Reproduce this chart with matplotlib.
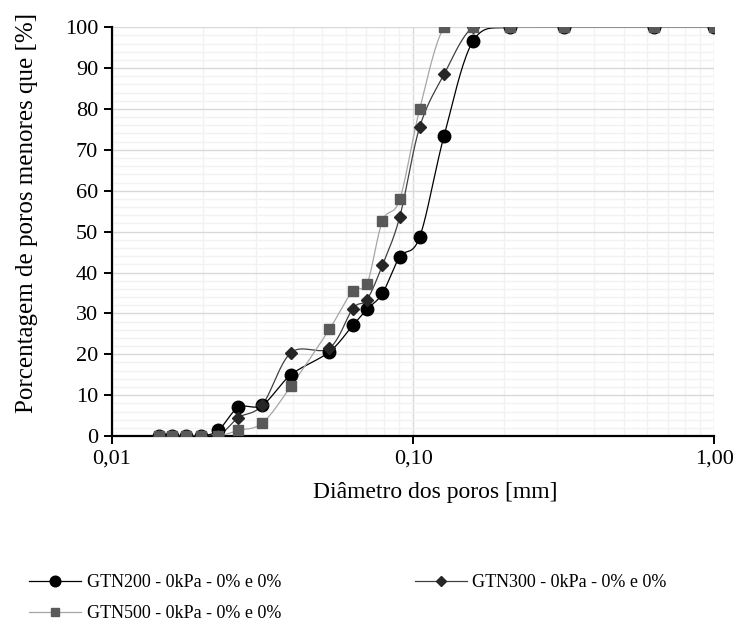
import numpy as np
import matplotlib
matplotlib.use('Agg')
import matplotlib.pyplot as plt
from matplotlib.ticker import FixedLocator, NullFormatter, MultipleLocator, FixedFormatter

plt.rcParams['font.family'] = ['Liberation Serif', 'DejaVu Serif']

# pore diameters [mm]
diam = [0.01436, 0.01586, 0.01757, 0.01975, 0.02254, 0.02629, 0.0316, 0.0393,
        0.0527, 0.0631, 0.0703, 0.0791, 0.0903, 0.1052, 0.1268, 0.1582,
        0.2105, 0.316, 0.632, 1.0]
gtn200 = [0, 0, 0, 0, 1.4, 7.0, 7.6, 15.0, 20.6, 27.1, 31.0, 34.9, 43.8, 48.7,
          73.5, 96.6, 100, 100, 100, 100]
gtn300 = [0, 0, 0, 0, 0, 4.5, 7.7, 20.4, 21.5, 31.2, 33.4, 41.8, 53.6, 75.6,
          88.5, 100, 100, 100, 100, 100]
gtn500 = [0, 0, 0, 0, 0, 1.4, 3.2, 12.2, 26.1, 35.6, 37.2, 52.6, 57.9, 80.0,
          100, 100, 100, 100, 100, 100]
labels = ['GTN200 - 0kPa - 0% e 0%', 'GTN300 - 0kPa - 0% e 0%', 'GTN500 - 0kPa - 0% e 0%']


def smooth(x, y, n=20):
    # catmull-rom through the points in log-x space (like excel smoothed lines)
    lx = np.log10(x)
    y = np.asarray(y, float)
    px = np.concatenate([[2*lx[0]-lx[1]], lx, [2*lx[-1]-lx[-2]]])
    py = np.concatenate([[2*y[0]-y[1]], y, [2*y[-1]-y[-2]]])
    ox, oy = [], []
    t = np.linspace(0, 1, n)
    for i in range(1, len(px)-2):
        for arr, out in ((px, ox), (py, oy)):
            p0, p1, p2, p3 = arr[i-1], arr[i], arr[i+1], arr[i+2]
            m1 = (p2 - p0) / 2 / 3
            m2 = (p3 - p1) / 2 / 3
            b = ((1-t)**3*p1 + 3*(1-t)**2*t*(p1+m1) + 3*(1-t)*t**2*(p2-m2) + t**3*p2)
            out.extend(b)
    return 10**np.array(ox), np.array(oy)


fig = plt.figure(figsize=(7.37, 6.32), dpi=100)
ax = fig.add_axes([0.152, 0.310, 0.817, 0.647])

styles = [('o', '#000000', '#000000', 9),
          ('D', '#262626', '#404040', 6.5),
          ('s', '#595959', '#a6a6a6', 7.5)]
handles = []
for yv, (mk, mc, lc, ms), lab in zip([gtn200, gtn300, gtn500], styles, labels):
    sx, sy = smooth(diam, yv)
    ax.plot(sx, sy, '-', color=lc, lw=0.9, zorder=3)
    ax.plot(diam, yv, mk, color=mc, ms=ms, mec=mc, zorder=4)
    h, = ax.plot([], [], '-', color=lc, lw=0.9, marker=mk, mfc=mc, mec=mc, ms=ms*0.85)
    handles.append(h)

ax.set_xscale('log')
ax.set_xlim(0.01, 1.0)
ax.set_ylim(0, 100)
ax.xaxis.set_major_locator(FixedLocator([0.01, 0.1, 1.0]))
ax.xaxis.set_major_formatter(FixedFormatter(['0,01', '0,10', '1,00']))
minors = [k*10.0**e for e in (-2, -1) for k in range(2, 10)]
ax.xaxis.set_minor_locator(FixedLocator(minors))
ax.xaxis.set_minor_formatter(NullFormatter())
ax.yaxis.set_major_locator(MultipleLocator(10))
ax.yaxis.set_minor_locator(MultipleLocator(2))

ax.grid(which='major', color='#d9d9d9', lw=1.0, zorder=0)
ax.grid(which='minor', color='#f2f2f2', lw=1.0, zorder=0)
ax.set_axisbelow(True)

for s in ('top', 'right'):
    ax.spines[s].set_visible(False)
ax.spines['left'].set_linewidth(1.6)
ax.spines['bottom'].set_linewidth(1.6)
ax.tick_params(which='major', direction='out', length=6, width=1.4, labelsize=16, pad=4)
ax.tick_params(which='minor', length=0)

ax.set_xlabel('Diâmetro dos poros [mm]', fontsize=17)
ax.set_ylabel('Porcentagem de poros menores que [%]', fontsize=18)
ax.xaxis.set_label_coords(0.536, -0.112)
ax.yaxis.set_label_coords(-0.123, 0.545)

# column-wise fill: [200, 500] | [300]
order = [0, 2, 1]
fig.legend([handles[i] for i in order], [labels[i] for i in order],
           loc='upper left', bbox_to_anchor=(0.039, 0.092),
           ncol=2, frameon=False, fontsize=13, handlelength=2.9, handletextpad=0.3,
           columnspacing=7.4, labelspacing=0.78, borderaxespad=0, borderpad=0)

fig.savefig('out.png', dpi=100)
